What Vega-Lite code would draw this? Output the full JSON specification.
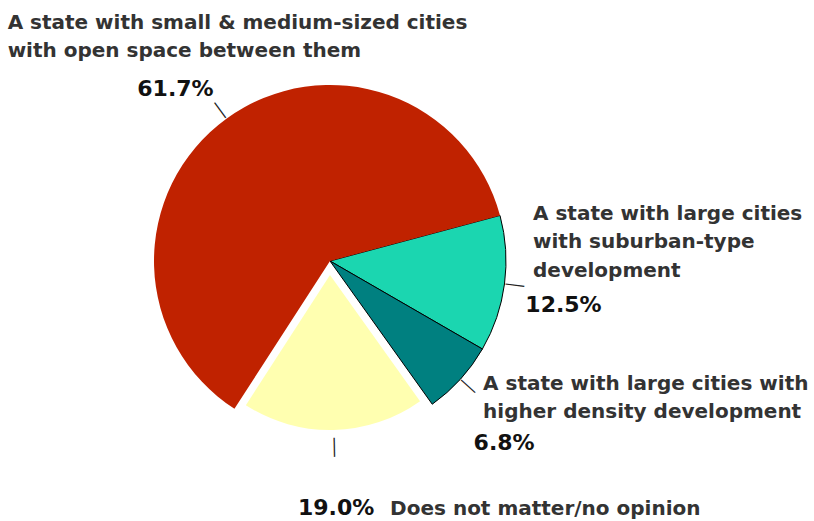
{
  "$schema": "https://vega.github.io/schema/vega-lite/v6.json",
  "width": 660,
  "height": 520,
  "autosize": {"type": "none"},
  "padding": {"left": 0, "top": 1, "right": 154, "bottom": 0},
  "background": "white",
  "config": {"view": {"stroke": null}, "font": "DejaVu Sans"},
  "data": {"values": [
    {"category": "suburban", "label": "A state with large cities\nwith suburban-type\ndevelopment", "pct": "12.5%", "value": 12.5, "order": 1},
    {"category": "density", "label": "A state with large cities with\nhigher density development", "pct": "6.8%", "value": 6.8, "order": 2},
    {"category": "nomatter", "label": "Does not matter/no opinion", "pct": "19.0%", "value": 19.0, "order": 3},
    {"category": "small", "label": "A state with small & medium-sized cities\nwith open space between them", "pct": "61.7%", "value": 61.7, "order": 4}
  ]},
  "encoding": {
    "theta": {"field": "value", "type": "quantitative", "stack": true, "scale": {"range": [1.309, 7.5922]}},
    "order": {"field": "order", "type": "quantitative"}
  },
  "layer": [
    {
      "mark": {"type": "arc", "outerRadius": 176, "strokeWidth": 1},
      "encoding": {
        "color": {"field": "category", "type": "nominal", "scale": {"domain": ["suburban", "density", "nomatter", "small"], "range": ["#1BD6B0", "#008080", "#FFFFB0", "#C02200"]}, "legend": null},
        "stroke": {"condition": {"test": "datum.order <= 2", "value": "#000000"}, "value": "transparent"},
        "opacity": {"condition": {"test": "datum.order === 3", "value": 0}, "value": 1}
      }
    },
    {
      "mark": {"type": "arc", "outerRadius": 155, "yOffset": 14},
      "encoding": {
        "color": {"field": "category", "type": "nominal", "legend": null},
        "opacity": {"condition": {"test": "datum.order === 3", "value": 1}, "value": 0}
      }
    },
    {
      "mark": {"type": "text", "radius": 186, "text": "│", "fontSize": 16, "align": "center", "baseline": "middle", "color": "#222222"},
      "encoding": {
        "angle": {"field": "order", "type": "quantitative", "scale": {"type": "linear", "domain": [1, 2, 3, 4], "range": [97.5, 132.24, 178.7, 324]}}
      }
    },
    {
      "mark": {"type": "text", "radius": 196, "align": "left", "baseline": "alphabetic", "dx": 8.7, "dy": -66.6, "fontSize": 20, "fontWeight": "bold", "lineHeight": 28.5, "lineBreak": "\n", "color": "#333333"},
      "encoding": {"text": {"field": "label"}, "opacity": {"condition": {"test": "datum.order === 1", "value": 1}, "value": 0}}
    },
    {
      "mark": {"type": "text", "radius": 196, "align": "left", "baseline": "alphabetic", "dx": 1, "dy": 25.4, "fontSize": 22, "fontWeight": "bold", "color": "#111111"},
      "encoding": {"text": {"field": "pct"}, "opacity": {"condition": {"test": "datum.order === 1", "value": 1}, "value": 0}}
    },
    {
      "mark": {"type": "text", "radius": 196, "align": "left", "baseline": "alphabetic", "dx": 8, "dy": -2.8, "fontSize": 20, "fontWeight": "bold", "lineHeight": 28.5, "lineBreak": "\n", "color": "#333333"},
      "encoding": {"text": {"field": "label"}, "opacity": {"condition": {"test": "datum.order === 2", "value": 1}, "value": 0}}
    },
    {
      "mark": {"type": "text", "radius": 196, "align": "left", "baseline": "alphabetic", "dx": -1.5, "dy": 57.2, "fontSize": 22, "fontWeight": "bold", "color": "#111111"},
      "encoding": {"text": {"field": "pct"}, "opacity": {"condition": {"test": "datum.order === 2", "value": 1}, "value": 0}}
    },
    {
      "mark": {"type": "text", "radius": 196, "align": "left", "baseline": "alphabetic", "dx": 55.6, "dy": 58, "fontSize": 20, "fontWeight": "bold", "color": "#333333"},
      "encoding": {"text": {"field": "label"}, "opacity": {"condition": {"test": "datum.order === 3", "value": 1}, "value": 0}}
    },
    {
      "mark": {"type": "text", "radius": 196, "align": "center", "baseline": "alphabetic", "dx": 1.6, "dy": 58, "fontSize": 22, "fontWeight": "bold", "color": "#111111"},
      "encoding": {"text": {"field": "pct"}, "opacity": {"condition": {"test": "datum.order === 3", "value": 1}, "value": 0}}
    },
    {
      "mark": {"type": "text", "radius": 196, "align": "left", "baseline": "alphabetic", "dx": -207, "dy": -74, "fontSize": 20, "fontWeight": "bold", "lineHeight": 28.5, "lineBreak": "\n", "color": "#333333"},
      "encoding": {"text": {"field": "label"}, "opacity": {"condition": {"test": "datum.order === 4", "value": 1}, "value": 0}}
    },
    {
      "mark": {"type": "text", "radius": 196, "align": "right", "baseline": "alphabetic", "dx": -1, "dy": -7, "fontSize": 22, "fontWeight": "bold", "color": "#111111"},
      "encoding": {"text": {"field": "pct"}, "opacity": {"condition": {"test": "datum.order === 4", "value": 1}, "value": 0}}
    }
  ]
}
